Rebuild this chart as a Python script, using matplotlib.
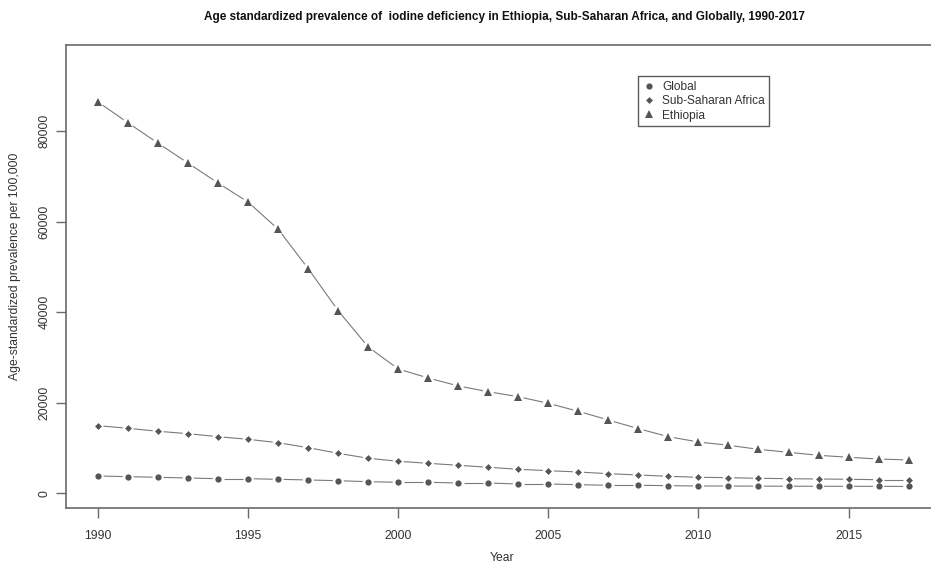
import matplotlib
matplotlib.use("Agg")
import matplotlib.pyplot as plt
import numpy as np
from matplotlib.lines import Line2D

years = list(range(1990, 2018))
ethiopia = [86400, 81800, 77300, 72900, 68500, 64300, 58300, 49600, 40300, 32300,
            27450, 25460, 23700, 22430, 21330, 19870, 18100, 16180, 14270, 12500,
            11330, 10600, 9710, 9050, 8390, 7950, 7570, 7350]
ssa = [14930, 14350, 13690, 13160, 12500, 11920, 11170, 10070, 8830, 7730,
       7070, 6620, 6180, 5740, 5300, 4990, 4700, 4330, 4040, 3750,
       3530, 3450, 3310, 3220, 3160, 3090, 3000, 3000]
glob = [3820, 3670, 3530, 3380, 3220, 3220, 3090, 2940, 2780, 2560,
        2430, 2430, 2270, 2270, 2050, 2050, 1900, 1770, 1770, 1680,
        1610, 1600, 1580, 1560, 1550, 1540, 1530, 1520]
series_names = ["Global", "Sub-Saharan Africa", "Ethiopia"]
xticks = [1990, 1995, 2000, 2005, 2010, 2015]
yticks = [0, 20000, 40000, 60000, 80000]

title = "Age standardized prevalence of  iodine deficiency in Ethiopia, Sub-Saharan Africa, and Globally, 1990-2017"

FONT = ["Liberation Sans", "DejaVu Sans"]
plt.rcParams['font.family'] = FONT

W, H = 931, 564
fig = plt.figure(figsize=(W / 100, H / 100), dpi=100)
left, right, top, bottom = 65.7, 941, 44.7, 508
ax = fig.add_axes([left / W, 1 - bottom / H, (right - left) / W, (bottom - top) / H])

ax.set_xlim(1990 - 27 * 0.04, 2017 + 27 * 0.04)
ax.set_ylim(-3250, 99070)

mcol = "#555555"
lcol = "#7a7a7a"
txtcol = "#333333"

styles = [
    (glob, "o", 4.5),
    (ssa, "D", 3.5),
    (ethiopia, "^", 6.0),
]

fig.canvas.draw()
trans = ax.transData
inv = trans.inverted()
gap = 5.5
for vals, mk, ms in styles:
    ax.plot(years, vals, linestyle="none", marker=mk, markersize=ms,
            color=mcol, markeredgewidth=0, zorder=3)
    pts = trans.transform(np.column_stack([years, vals]))
    for i in range(len(pts) - 1):
        p0, p1 = pts[i], pts[i + 1]
        d = p1 - p0
        L = np.hypot(*d)
        if L <= 2 * gap:
            continue
        u = d / L
        a = inv.transform(p0 + u * gap)
        b = inv.transform(p1 - u * gap)
        ax.plot([a[0], b[0]], [a[1], b[1]], color=lcol, lw=0.8, zorder=2,
                solid_capstyle="butt")

for s in ["top", "bottom", "left", "right"]:
    ax.spines[s].set_color("#6a6a6a")
    ax.spines[s].set_linewidth(1.2)

ax.set_xticks(xticks)
ax.set_xticklabels([str(t) for t in xticks])
ax.set_yticks(yticks)
ax.set_yticklabels([str(t) for t in yticks], rotation=90, va="center")
ax.tick_params(axis="both", direction="out", length=7, width=1, color="#6a6a6a",
               labelsize=8.7, labelcolor=txtcol)
ax.tick_params(axis="x", pad=9)
ax.tick_params(axis="y", pad=4)

fig.text(502 / W, 1 - 558 / H, "Year", ha="center", va="center", fontsize=8.7, color=txtcol)
fig.text(15 / W, 1 - 266 / H, "Age-standardized prevalence per 100,000", ha="center", va="center",
         rotation=90, fontsize=8.7, color=txtcol)
fig.text(504 / W, 1 - 17 / H, title, ha="center", va="center", fontsize=8.5,
         fontweight="bold", color="#111111")

handles = [Line2D([], [], linestyle="none", marker=mk, markersize=ms, color=mcol,
                  markeredgewidth=0) for _, mk, ms in styles]
leg = fig.legend(handles, series_names, loc="upper left",
                 bbox_to_anchor=(638 / W, 1 - 76 / H), fontsize=8.6,
                 frameon=True, fancybox=False, borderpad=0.4, labelspacing=0.2,
                 handlelength=1.0, handletextpad=0.6, borderaxespad=0)
leg.get_frame().set_edgecolor("#333333")
leg.get_frame().set_linewidth(1.0)
for t in leg.get_texts():
    t.set_color(txtcol)

fig.savefig("out.png", dpi=100)
